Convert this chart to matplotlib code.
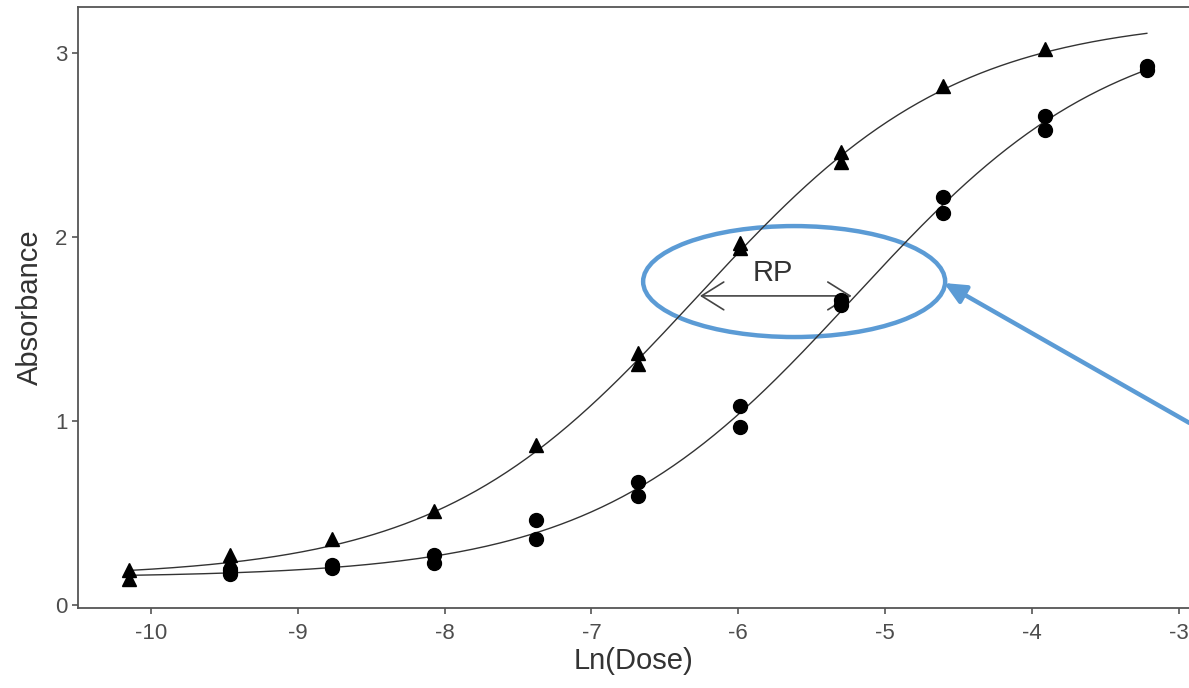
import numpy as np
import matplotlib.pyplot as plt
from matplotlib.patches import Ellipse, FancyArrowPatch

plt.rcParams["font.family"] = ["Liberation Sans", "DejaVu Sans"]

# ln(dose) levels, two-fold dilutions
ln_dose = [-10.150, -9.457, -8.764, -8.071, -7.378, -6.685,
           -5.991, -5.298, -4.605, -3.912, -3.219]

# test preparation (triangles), duplicate wells; last level not shown
test_x = [-10.150, -10.150, -9.457, -9.457, -8.764, -8.071, -7.378,
          -6.685, -6.685, -5.991, -5.991, -5.298, -5.298, -4.605, -3.912]
test_y = [0.19, 0.14, 0.27, 0.24, 0.36, 0.51, 0.87,
          1.37, 1.31, 1.97, 1.94, 2.46, 2.41, 2.82, 3.02]

# reference preparation (circles), duplicate wells
ref_x = [-9.457, -9.457, -8.764, -8.764, -8.071, -8.071, -7.378, -7.378,
         -6.685, -6.685, -5.991, -5.991, -5.298, -5.298, -4.605, -4.605,
         -3.912, -3.912, -3.219, -3.219]
ref_y = [0.19, 0.17, 0.22, 0.20, 0.27, 0.23, 0.46, 0.36,
         0.67, 0.59, 1.08, 0.97, 1.66, 1.63, 2.22, 2.13,
         2.66, 2.58, 2.93, 2.91]

# parallel 4-parameter logistic fit (shared bottom, top, slope)
fit_bottom = 0.15
fit_top = 3.20
fit_slope = 1.13
fit_mid_test = -6.28
fit_mid_ref = -5.21
rp_level = 1.68


def logistic(x, mid):
    return fit_bottom + (fit_top - fit_bottom) / (1.0 + np.exp(-fit_slope * (x - mid)))


fig = plt.figure(figsize=(11.89, 6.88), dpi=100)
ax = fig.add_axes([78 / 1189, 80 / 688, 1111 / 1189, 601 / 688])

xx = np.linspace(ln_dose[0], ln_dose[-1], 300)
ax.plot(xx, logistic(xx, fit_mid_test), color="#333333", lw=1.0)
ax.plot(xx, logistic(xx, fit_mid_ref), color="#333333", lw=1.0)
ax.plot(test_x, test_y, "^", color="black", ms=10, ls="none")
ax.plot(ref_x, ref_y, "o", color="black", ms=10, ls="none")

# relative potency arrow
rp_arrow = FancyArrowPatch((fit_mid_test, rp_level), (fit_mid_ref, rp_level),
                           arrowstyle="<->,head_length=0.8,head_width=0.5",
                           mutation_scale=20, color="#444444", lw=1.2)
ax.add_patch(rp_arrow)
ax.text((fit_mid_test + fit_mid_ref) / 2 - 0.02, rp_level + 0.05, "RP",
        fontsize=21, color="#333333", ha="center", va="bottom")

# highlight
ax.add_patch(Ellipse((-5.62, 1.758), 2.056, 0.603, fill=False,
                     edgecolor="#5B9BD5", lw=3.2, clip_on=False))
ax.annotate("", xy=(-4.60, 1.75), xytext=(-2.93, 0.99),
            arrowprops=dict(arrowstyle="-|>,head_length=0.65,head_width=0.3",
                            mutation_scale=20, color="#5B9BD5", lw=3.2,
                            shrinkA=0, shrinkB=0),
            annotation_clip=False)

ax.set_xlim(-10.495, -2.932)
ax.set_ylim(-0.016, 3.25)
ax.set_xticks([-10, -9, -8, -7, -6, -5, -4, -3])
ax.set_yticks([0, 1, 2, 3])
ax.set_xticklabels(["-10", "-9", "-8", "-7", "-6", "-5", "-4", "-3"])
ax.spines["right"].set_visible(False)
for s in ["left", "bottom", "top"]:
    ax.spines[s].set_color("#555555")
    ax.spines[s].set_linewidth(1.3)
ax.tick_params(colors="#555555", labelcolor="#4D4D4D", labelsize=16,
               length=4, width=1.2)
ax.tick_params(axis="x", pad=7)
ax.set_xlabel("Ln(Dose)", fontsize=21, color="#333333", labelpad=2)
ax.set_ylabel("Absorbance", fontsize=21, color="#333333", labelpad=8)

fig.savefig("out.png", dpi=100)
